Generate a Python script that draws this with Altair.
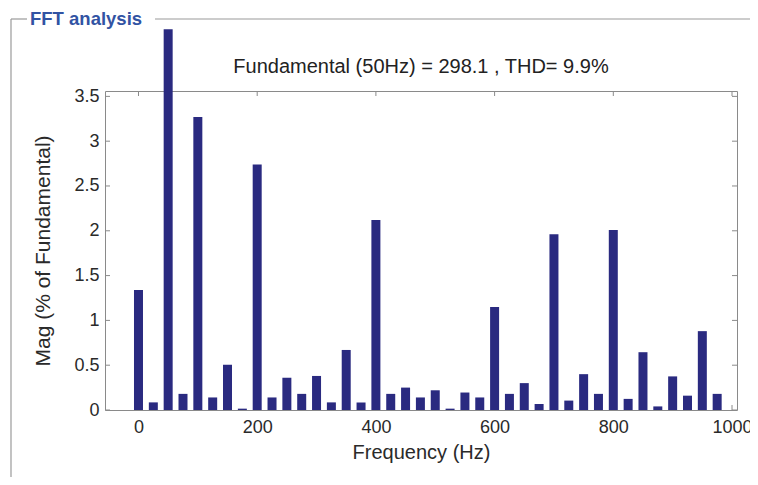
import altair as alt
import pandas as pd

# Harmonic spectrum (Hz, % of fundamental)
freqs = [0, 25, 50, 75, 100, 125, 150, 175, 200, 225,
         250, 275, 300, 325, 350, 375, 400, 425, 450, 475,
         500, 525, 550, 575, 600, 625, 650, 675, 700, 725,
         750, 775, 800, 825, 850, 875, 900, 925, 950, 975]
mags = [1.34, 0.085, 4.25, 0.18, 3.27, 0.14, 0.505, 0.015, 2.74, 0.14,
        0.36, 0.18, 0.38, 0.085, 0.67, 0.085, 2.12, 0.18, 0.25, 0.14,
        0.22, 0.015, 0.195, 0.14, 1.15, 0.18, 0.30, 0.067, 1.96, 0.105,
        0.40, 0.18, 2.01, 0.124, 0.645, 0.04, 0.375, 0.16, 0.88, 0.18]

x_ticks = [0, 200, 400, 600, 800, 1000]
y_ticks = [0, 0.5, 1, 1.5, 2, 2.5, 3, 3.5]

title_text = "Fundamental (50Hz) = 298.1 , THD= 9.9%"
group_text = "FFT analysis"

W, H = 632, 319
FONT = "Liberation Sans"
AX = "#8a8a8a"

df = pd.DataFrame({"freq": freqs, "mag": mags})
xt = pd.DataFrame({"v": x_ticks})
yt = pd.DataFrame({"v": y_ticks})

xscale = alt.Scale(domain=[-48, 1000], nice=False, zero=False)
yscale = alt.Scale(domain=[0, 3.56], nice=False)

bars = alt.Chart(df).mark_bar(size=9, color="#2a2a80", clip=False).encode(
    x=alt.X("freq:Q", scale=xscale,
            axis=alt.Axis(values=x_ticks, format="d", title="Frequency (Hz)",
                          grid=False, ticks=False, domain=False, labelPadding=8,
                          titlePadding=6, titleFontSize=20)),
    y=alt.Y("mag:Q", scale=yscale,
            axis=alt.Axis(values=y_ticks, format="~g", title="Mag (% of Fundamental)",
                          grid=False, ticks=False, domain=False,
                          labelPadding=6, titlePadding=20, titleFontSize=21)),
)

# inward ticks (MATLAB style) on all four sides
tick_l = alt.Chart(yt).mark_rule(color=AX).encode(
    y=alt.Y("v:Q", scale=yscale), x=alt.value(0), x2=alt.value(5))
tick_r = alt.Chart(yt).mark_rule(color=AX).encode(
    y=alt.Y("v:Q", scale=yscale), x=alt.value(W - 5), x2=alt.value(W))
tick_b = alt.Chart(xt).mark_rule(color=AX).encode(
    x=alt.X("v:Q", scale=xscale), y=alt.value(H - 5), y2=alt.value(H))
tick_t = alt.Chart(xt).mark_rule(color=AX).encode(
    x=alt.X("v:Q", scale=xscale), y=alt.value(0), y2=alt.value(5))

title = alt.Chart(pd.DataFrame({"t": [title_text]})).mark_text(
    font=FONT, fontSize=20, color="#222222", align="center", baseline="alphabetic"
).encode(text="t:N", x=alt.value(W / 2), y=alt.value(-18))

# group box frame
GB = "#9a9a9a"
one = pd.DataFrame({"a": [0]})
box_left = alt.Chart(one).mark_rule(color=GB, strokeWidth=1.2).encode(
    x=alt.value(-94), y=alt.value(-72), y2=alt.value(386))
box_top1 = alt.Chart(one).mark_rule(color=GB, strokeWidth=1.2).encode(
    x=alt.value(-94), x2=alt.value(-78), y=alt.value(-72))
box_top2 = alt.Chart(one).mark_rule(color=GB, strokeWidth=1.2).encode(
    x=alt.value(50), x2=alt.value(646), y=alt.value(-72))
group = alt.Chart(pd.DataFrame({"t": [group_text]})).mark_text(
    font=FONT, fontSize=18.5, fontWeight="bold", color="#3153a3",
    align="left", baseline="alphabetic"
).encode(text="t:N", x=alt.value(-75), y=alt.value(-66))

chart = alt.layer(
    box_left, box_top1, box_top2, group, title,
    tick_l, tick_r, tick_b, tick_t, bars
).properties(
    width=W, height=H,
    autosize=alt.AutoSizeParams(type="none"),
    padding={"left": 97, "top": 83, "right": 13, "bottom": 67},
    background="white",
).configure_view(
    stroke=AX, strokeWidth=1
).configure_axis(
    labelFont=FONT, labelFontSize=18, labelColor="#2a2a2a",
    titleFont=FONT, titleFontWeight="normal", titleColor="#2a2a2a",
)

chart.save("out.html", embed_options={"renderer": "svg", "actions": False})
